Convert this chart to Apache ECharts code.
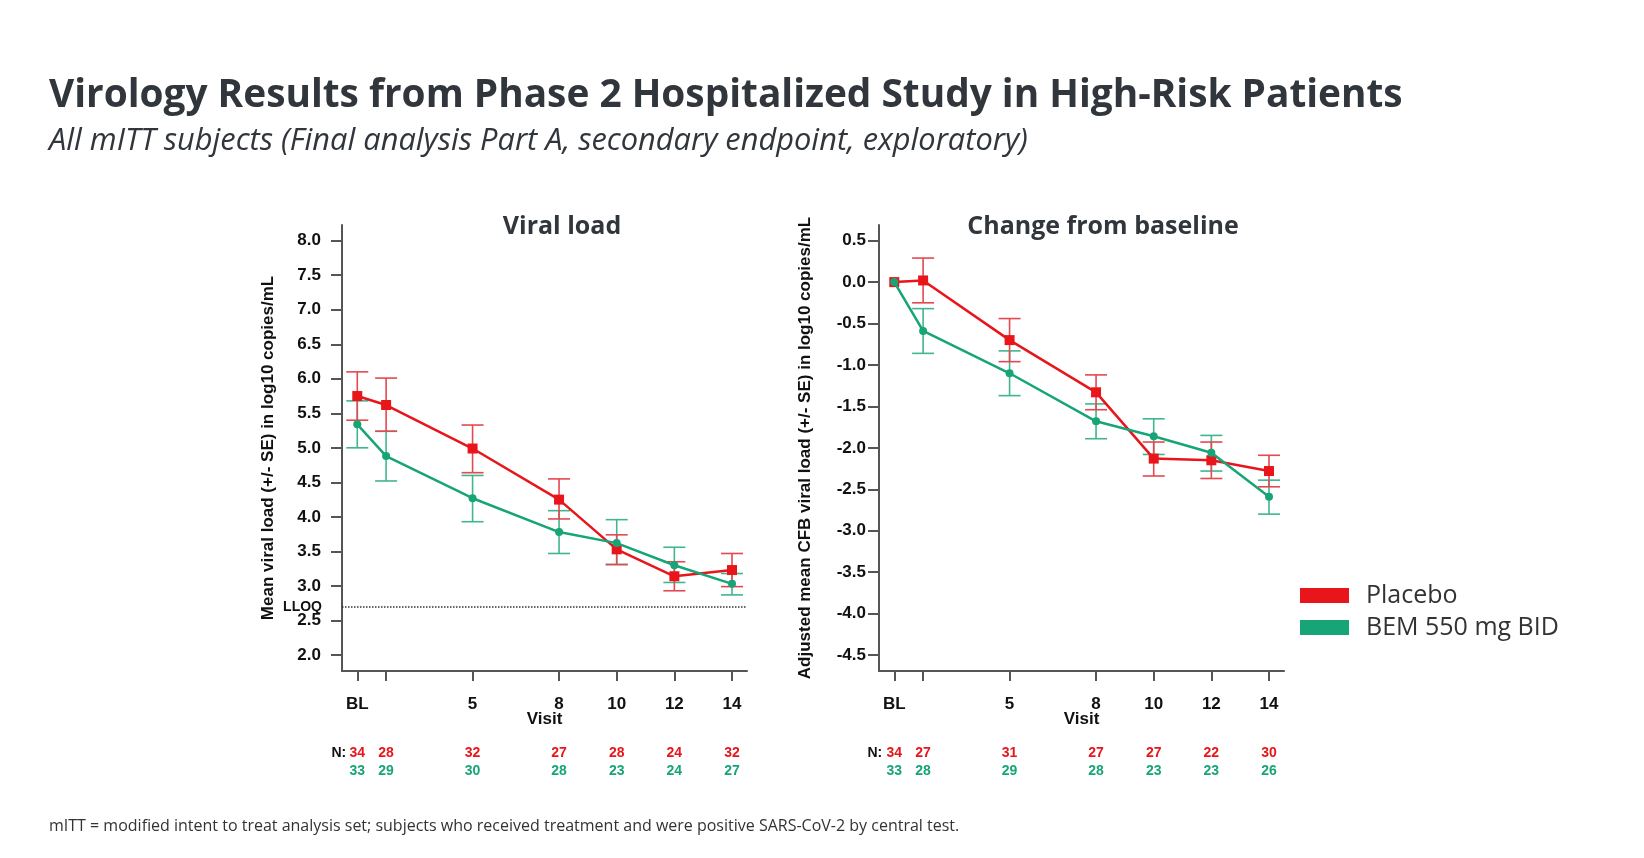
<!DOCTYPE html>
<html><head><meta charset="utf-8">
<script src="https://cdn.jsdelivr.net/npm/echarts@6/dist/echarts.min.js"></script>
<style>html,body{margin:0;padding:0;background:#fff}#c{width:1644px;height:858px}</style>
</head><body><div id="c"></div>
<script>
// ---------- data ----------
const visits = [1, 2, 5, 8, 10, 12, 14];
const labeledVisits = [1, 5, 8, 10, 12, 14];
const visitTickText = {1: 'BL', 5: '5', 8: '8', 10: '10', 12: '12', 14: '14'};
const vlTicks = [2.0, 2.5, 3.0, 3.5, 4.0, 4.5, 5.0, 5.5, 6.0, 6.5, 7.0, 7.5, 8.0];
const cfbTicks = [-4.5, -4.0, -3.5, -3.0, -2.5, -2.0, -1.5, -1.0, -0.5, 0.0, 0.5];
const lloq = 2.7;

const vlPlaceboMean = [5.75, 5.62, 4.99, 4.25, 3.53, 3.14, 3.23];
const vlPlaceboLo   = [5.40, 5.24, 4.64, 3.97, 3.31, 2.93, 2.99];
const vlPlaceboHi   = [6.10, 6.01, 5.33, 4.55, 3.74, 3.35, 3.47];
const vlBemMean     = [5.34, 4.88, 4.27, 3.78, 3.62, 3.30, 3.03];
const vlBemLo       = [5.00, 4.52, 3.93, 3.47, 3.31, 3.05, 2.87];
const vlBemHi       = [5.68, 5.24, 4.60, 4.09, 3.96, 3.56, 3.18];

const cfbPlaceboMean = [0.00, 0.02, -0.70, -1.33, -2.13, -2.15, -2.28];
const cfbPlaceboLo   = [null, -0.25, -0.96, -1.54, -2.34, -2.37, -2.47];
const cfbPlaceboHi   = [null, 0.29, -0.44, -1.12, -1.93, -1.93, -2.09];
const cfbBemMean     = [0.00, -0.59, -1.10, -1.68, -1.86, -2.06, -2.59];
const cfbBemLo       = [null, -0.86, -1.37, -1.89, -2.08, -2.28, -2.80];
const cfbBemHi       = [null, -0.32, -0.83, -1.47, -1.65, -1.85, -2.39];

const nVlPlacebo  = [34, 28, 32, 27, 28, 24, 32];
const nVlBem      = [33, 29, 30, 28, 23, 24, 27];
const nCfbPlacebo = [34, 27, 31, 27, 27, 22, 30];
const nCfbBem     = [33, 28, 29, 28, 23, 23, 26];

// ---------- style ----------
const RED = '#e8151b', RED_ERR = '#e44850';
const GREEN = '#17a577', GREEN_ERR = '#40b68c';
const AXIS = '#555555', INK = '#111111', TITLE = '#30363b';
const AX_FONT = '"Liberation Sans", Arial, sans-serif';
const TX_FONT = '"Open Sans", sans-serif';

const xRange = [0.47, 14.52];
const vlRange = [1.768, 8.227];
const cfbRange = [-4.693, 0.689];

function pairs(xs, ys) { return xs.map((x, i) => [x, ys[i]]); }
function errData(xs, lo, hi) {
  const out = [];
  xs.forEach((x, i) => { if (lo[i] != null) out.push([x, lo[i], hi[i]]); });
  return out;
}
function errRender(params, api) {
  const x = api.value(0), lo = api.value(1), hi = api.value(2);
  const p1 = api.coord([x, hi]), p2 = api.coord([x, lo]);
  const w = 11;
  const style = {stroke: api.visual('color'), lineWidth: 1.6};
  return {type: 'group', children: [
    {type: 'line', shape: {x1: p1[0], y1: p1[1], x2: p2[0], y2: p2[1]}, style},
    {type: 'line', shape: {x1: p1[0] - w, y1: p1[1], x2: p1[0] + w, y2: p1[1]}, style},
    {type: 'line', shape: {x1: p2[0] - w, y1: p2[1], x2: p2[0] + w, y2: p2[1]}, style}
  ]};
}
function nRender(yMin, nOff) {
  return function (params, api) {
    const p = api.coord([api.value(0), yMin]);
    const font = 'bold 14px ' + AX_FONT;
    const ch = [
      {type: 'text', x: p[0], y: p[1] + 82, style: {text: String(api.value(1)), fill: RED, font, align: 'center', verticalAlign: 'middle'}},
      {type: 'text', x: p[0], y: p[1] + 100, style: {text: String(api.value(2)), fill: GREEN, font, align: 'center', verticalAlign: 'middle'}}
    ];
    if (params.dataIndex === 0) {
      ch.push({type: 'text', x: p[0] - nOff, y: p[1] + 82, style: {text: 'N:', fill: INK, font, align: 'right', verticalAlign: 'middle'}});
    }
    return {type: 'group', children: ch};
  };
}
function xAxisCfg(gi) {
  return {
    type: 'value', gridIndex: gi, min: xRange[0], max: xRange[1],
    name: 'Visit', nameLocation: 'middle', nameGap: 40, nameMoveOverlap: false,
    nameTextStyle: {color: INK, fontWeight: 'bold', fontSize: 17, fontFamily: AX_FONT},
    axisLine: {show: true, onZero: false, lineStyle: {color: AXIS, width: 2}},
    axisTick: {show: true, length: 10, customValues: visits, lineStyle: {color: AXIS, width: 2}},
    axisLabel: {customValues: labeledVisits, margin: 25, color: INK, fontWeight: 'bold', fontSize: 17, fontFamily: AX_FONT,
      formatter: v => visitTickText[Math.round(v)] || ''},
    splitLine: {show: false}
  };
}
function yAxisCfg(gi, range, ticks, name, margin) {
  return {
    type: 'value', gridIndex: gi, min: range[0], max: range[1],
    name, nameLocation: 'middle', nameGap: 65, nameRotate: 90,
    nameTextStyle: {color: INK, fontWeight: 'bold', fontSize: 17, fontFamily: AX_FONT},
    axisLine: {show: true, onZero: false, lineStyle: {color: AXIS, width: 2}},
    axisTick: {show: true, length: 11, customValues: ticks, lineStyle: {color: AXIS, width: 2}},
    axisLabel: {customValues: ticks, margin, color: INK, fontWeight: 'bold', fontSize: 17, fontFamily: AX_FONT,
      formatter: v => v.toFixed(1)},
    splitLine: {show: false}
  };
}
function chartSeries(gi, pMean, pLo, pHi, bMean, bLo, bHi, nP, nB, yMin, nOff, withLloq) {
  const s = [
    {type: 'custom', xAxisIndex: gi, yAxisIndex: gi, renderItem: errRender, itemStyle: {color: GREEN_ERR},
      data: errData(visits, bLo, bHi), z: 2, silent: true},
    {type: 'custom', xAxisIndex: gi, yAxisIndex: gi, renderItem: errRender, itemStyle: {color: RED_ERR},
      data: errData(visits, pLo, pHi), z: 2, silent: true},
    {type: 'line', name: 'Placebo', xAxisIndex: gi, yAxisIndex: gi, data: pairs(visits, pMean),
      symbol: 'rect', symbolSize: 10, color: RED, lineStyle: {color: RED, width: 2.5}, itemStyle: {color: RED}, z: 3},
    {type: 'line', name: 'BEM 550 mg BID', xAxisIndex: gi, yAxisIndex: gi, data: pairs(visits, bMean),
      symbol: 'circle', symbolSize: 8, color: GREEN, lineStyle: {color: GREEN, width: 2.5}, itemStyle: {color: GREEN}, z: 4},
    {type: 'custom', xAxisIndex: gi, yAxisIndex: gi, renderItem: nRender(yMin, nOff), clip: false, silent: true,
      data: visits.map((v, i) => [v, nP[i], nB[i]])}
  ];
  if (withLloq) {
    s[2].markLine = {
      silent: true, symbol: 'none',
      lineStyle: {type: 'dotted', color: '#333', width: 1.5},
      label: {show: true, position: 'start', distance: 20, formatter: 'LLOQ', color: INK, fontWeight: 'bold', fontSize: 14, fontFamily: AX_FONT},
      data: [{yAxis: lloq}]
    };
  }
  return s;
}

const chart = echarts.init(document.getElementById('c'));
chart.setOption({
  backgroundColor: '#ffffff',
  animation: false,
  grid: [
    {left: 342, top: 225, width: 405, height: 446},
    {left: 879, top: 225, width: 405, height: 446}
  ],
  xAxis: [xAxisCfg(0), xAxisCfg(1)],
  yAxis: [
    yAxisCfg(0, vlRange, vlTicks, 'Mean viral load (+/- SE) in log10 copies/mL', 21),
    yAxisCfg(1, cfbRange, cfbTicks, 'Adjusted mean CFB viral load (+/- SE) in log10 copies/mL', 13)
  ],
  legend: {
    data: ['Placebo', 'BEM 550 mg BID'], orient: 'vertical', left: 1295, top: 578,
    icon: 'rect', itemWidth: 49, itemHeight: 15, itemGap: 7,
    textStyle: {color: '#333', fontSize: 25, fontFamily: TX_FONT, padding: [0, 0, 0, 12]}
  },
  graphic: [
    {type: 'text', left: 49, top: 76, style: {text: 'Virology Results from Phase 2 Hospitalized Study in High-Risk Patients',
      fill: TITLE, font: 'bold 38.8px ' + TX_FONT}},
    {type: 'text', left: 49, top: 126, style: {text: 'All mITT subjects (Final analysis Part A, secondary endpoint, exploratory)',
      fill: TITLE, font: 'italic 30.8px ' + TX_FONT}},
    {type: 'text', left: 49, top: 818, style: {text: 'mITT = modified intent to treat analysis set; subjects who received treatment and were positive SARS-CoV-2 by central test.',
      fill: '#333', font: '16px ' + TX_FONT}},
    {type: 'text', x: 562, y: 227, style: {text: 'Viral load', fill: TITLE, font: 'bold 25px ' + TX_FONT, align: 'center', verticalAlign: 'middle'}},
    {type: 'text', x: 1103, y: 227, style: {text: 'Change from baseline', fill: TITLE, font: 'bold 25px ' + TX_FONT, align: 'center', verticalAlign: 'middle'}}
  ],
  series: [
    ...chartSeries(0, vlPlaceboMean, vlPlaceboLo, vlPlaceboHi, vlBemMean, vlBemLo, vlBemHi, nVlPlacebo, nVlBem, vlRange[0], 11, true),
    ...chartSeries(1, cfbPlaceboMean, cfbPlaceboLo, cfbPlaceboHi, cfbBemMean, cfbBemLo, cfbBemHi, nCfbPlacebo, nCfbBem, cfbRange[0], 12, false)
  ]
});
</script></body></html>
